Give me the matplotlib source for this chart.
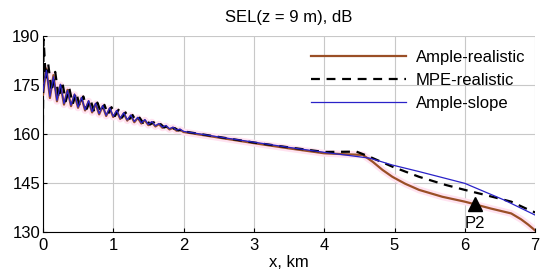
import numpy as np
import matplotlib.pyplot as plt

plt.rcParams['font.family'] = ['Liberation Sans', 'DejaVu Sans']

#%% data

# oscillating near-field part, x in km
x_osc = [0.00, 0.05, 0.10, 0.15, 0.20, 0.25, 0.30, 0.35, 0.40, 0.45,
         0.50, 0.55, 0.60, 0.65, 0.70, 0.75, 0.80, 0.85, 0.90, 0.95,
         1.00, 1.05, 1.10, 1.15, 1.20, 1.25, 1.30, 1.35, 1.40, 1.45,
         1.50, 1.55, 1.60, 1.65, 1.70, 1.75, 1.80, 1.85, 1.90, 1.95, 2.00]

ample_real_osc = [172, 180, 171, 178, 170, 175, 169, 173.5, 168.5, 172,
                  168, 171, 167.2, 170, 166.6, 169.2, 166, 168.5, 165.5, 167.8,
                  165.2, 167, 164.6, 166.3, 164.1, 165.6, 163.6, 164.9, 163.2, 164.2,
                  162.7, 163.6, 162.3, 163, 161.9, 162.4, 161.4, 161.9, 161, 161.3, 160.6]

ample_slope_osc = [173, 179.5, 171.5, 177.5, 170.3, 175.2, 169.3, 173.3, 168.8, 172.2,
                   168.2, 171.2, 167.4, 170.2, 166.8, 169.4, 166.2, 168.7, 165.7, 168,
                   165.4, 167.2, 164.8, 166.5, 164.3, 165.8, 163.8, 165.1, 163.4, 164.4,
                   162.9, 163.8, 162.5, 163.2, 162.1, 162.6, 161.6, 162.1, 161.2, 161.5, 160.8]

x_osc_mpe = [0.00, 0.01, 0.04, 0.075, 0.125, 0.175, 0.225, 0.275, 0.325, 0.375,
             0.425, 0.475, 0.525, 0.575, 0.625, 0.675, 0.725, 0.775, 0.825, 0.875,
             0.925, 0.975, 1.025, 1.075, 1.125, 1.175, 1.225, 1.275, 1.325, 1.375,
             1.425, 1.475, 1.525, 1.575, 1.625, 1.675, 1.725, 1.775, 1.825, 1.875,
             1.925, 1.975, 2.00]

mpe_real_osc = [163, 189, 177, 181.5, 173, 179, 171, 176, 170, 174,
                169.2, 172.6, 168.4, 171.5, 167.7, 170.5, 167.2, 169.6, 166.6, 168.9,
                166, 168.2, 165.5, 167.4, 165, 166.6, 164.4, 165.8, 163.9, 165,
                163.4, 164.3, 162.9, 163.6, 162.5, 163, 162, 162.4, 161.5, 161.8,
                161.1, 161.2, 160.8]

# smooth far-field part
x_far_real = [2.5, 3.0, 3.5, 4.0, 4.3, 4.55, 4.69, 4.83, 4.97, 5.15,
              5.35, 5.68, 6.0, 6.37, 6.66, 6.8, 6.9, 7.0]
ample_real_far = [158.9, 157.2, 155.6, 154.1, 153.8, 153.6, 151.5, 149, 146.9, 144.8,
                  142.9, 140.8, 139.3, 137.2, 135.7, 133.9, 132.3, 130.5]

x_far_slope = [2.5, 3.0, 3.5, 4.0, 4.65, 4.97, 5.35, 6.0, 6.56, 7.0]
ample_slope_far = [159.1, 157.5, 155.9, 154.4, 152.6, 150.5, 148.5, 144.9, 139.8, 135.2]

x_far_mpe = [2.5, 3.0, 3.5, 4.0, 4.46, 4.65, 4.97, 5.35, 5.73, 6.0, 6.3, 6.66, 6.87, 7.0]
mpe_real_far = [159.1, 157.4, 155.9, 154.5, 154.6, 153.0, 150.0, 146.9, 144.4, 142.9,
                141.3, 139.3, 137.2, 136.0]

p2_x, p2_y = 6.14, 138.6

xticks = [0, 1, 2, 3, 4, 5, 6, 7]
yticks = [130, 145, 160, 175, 190]

#%% plot

fig = plt.figure(figsize=(5.5, 2.74), dpi=100)
ax = fig.add_axes([0.078, 0.153, 0.895, 0.716])

x_real = x_osc + x_far_real
y_real = ample_real_osc + ample_real_far
ax.plot(x_real, y_real, color='#ffe2f0', lw=5, solid_capstyle='butt', zorder=2)
ax.plot(x_real, y_real, color='#9a4f26', lw=1.6, label='Ample-realistic', zorder=3)
ax.plot(x_osc_mpe + x_far_mpe, mpe_real_osc + mpe_real_far, color='black', lw=1.6,
        ls=(0, (4, 3)), label='MPE-realistic', zorder=4)
ax.plot(x_osc + x_far_slope, ample_slope_osc + ample_slope_far, color='#2a22c8', lw=0.9,
        label='Ample-slope', zorder=5)

ax.plot(p2_x, p2_y, marker='^', color='black', ms=10, zorder=6)
ax.text(p2_x, 135.0, 'P2', fontsize=12, ha='center', va='top')

ax.set_xlim(0, 7)
ax.set_ylim(130, 190)
ax.set_xticks(xticks)
ax.set_yticks(yticks)
ax.grid(True, color='#c8c8c8', lw=0.8)
ax.set_axisbelow(True)
for s in ['top', 'right']:
    ax.spines[s].set_visible(False)
ax.tick_params(direction='in', length=3, labelsize=12)
ax.tick_params(axis='x', pad=4)
ax.tick_params(axis='y', pad=2)

ax.set_title('SEL(z = 9 m), dB', fontsize=12, pad=10)
ax.set_xlabel('x, km', fontsize=12, labelpad=2)

leg = ax.legend(loc='upper right', bbox_to_anchor=(1.0, 0.98), frameon=False,
                fontsize=12, handlelength=5.7, labelspacing=0.48, handletextpad=0.6,
                borderaxespad=0.2)

fig.savefig('out.png', dpi=100)
